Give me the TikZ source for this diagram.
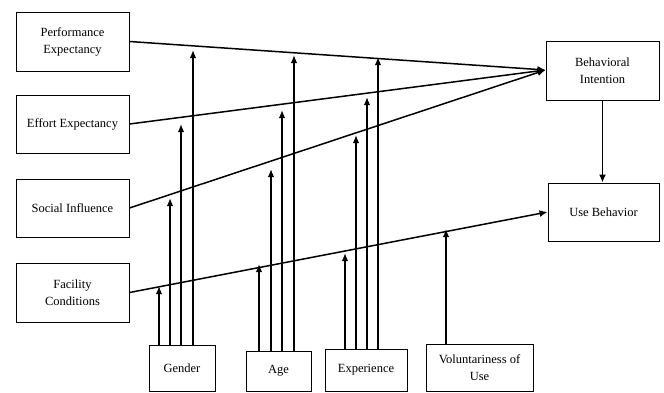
\documentclass[tikz,border=0pt]{standalone}
\usepackage{fontspec}
\setmainfont{Liberation Serif}
\usetikzlibrary{arrows.meta}
\begin{document}
\begin{tikzpicture}[x=1pt,y=-1pt,
  box/.style={draw,line width=1pt,inner sep=0pt,align=center,font=\fontsize{12.5}{17}\selectfont},
  link/.style={line width=1.5pt,-{Latex[length=8pt,width=7pt]}},
  mod/.style={line width=1.5pt,-{Latex[length=8pt,width=6.5pt]}}]
\useasboundingbox (0,0) rectangle (664,392);
% constructs
\node[box,minimum width=113pt,minimum height=59pt] (PE) at (72.5,41.5) {Performance\\Expectancy};
\node[box,minimum width=113pt,minimum height=58pt] (EE) at (72.5,124) {Effort Expectancy};
\node[box,minimum width=113pt,minimum height=58pt] (SI) at (72.5,208) {Social Influence};
\node[box,minimum width=113pt,minimum height=59pt] (FC) at (72.5,292.5) {Facility\\Conditions};
\node[box,minimum width=113pt,minimum height=59pt] (BI) at (602.5,70.5) {Behavioral\\Intention};
\node[box,minimum width=111pt,minimum height=58pt] (UB) at (603.5,212) {Use Behavior};
% moderators
\node[box,minimum width=66pt,minimum height=46pt] (G) at (182,368) {Gender};
\node[box,minimum width=65pt,minimum height=40pt] (A) at (278.5,371) {Age};
\node[box,minimum width=82pt,minimum height=42pt] (X) at (366,370) {Experience};
\node[box,minimum width=107pt,minimum height=47pt] (V) at (479.5,367.5) {Voluntariness of\\Use};
% main paths
\coordinate (bi) at (545.5,70);
\draw[link] (PE.east) -- (bi);
\draw[link] (EE.east) -- (bi);
\draw[link] (SI.east) -- (bi);
\draw[link] (FC.east) -- (UB.west);
\draw[link] (BI.south) -- (BI.south |- UB.north);
% moderator arrow tips
\coordinate (g1) at (159,286);
\coordinate (g2) at (170,198);
\coordinate (g3) at (181,124);
\coordinate (g4) at (193,50);
\coordinate (a1) at (259,264);
\coordinate (a2) at (271,169);
\coordinate (a3) at (282,110);
\coordinate (a4) at (294,55);
\coordinate (x1) at (345,253);
\coordinate (x2) at (356,135);
\coordinate (x3) at (367,97);
\coordinate (x4) at (378,57);
\coordinate (v1) at (446,229);
\foreach \c in {g1,g2,g3,g4} \draw[mod] (\c |- G.north) -- (\c);
\foreach \c in {a1,a2,a3,a4} \draw[mod] (\c |- A.north) -- (\c);
\foreach \c in {x1,x2,x3,x4} \draw[mod] (\c |- X.north) -- (\c);
\draw[mod] (v1 |- V.north) -- (v1);
\end{tikzpicture}
\end{document}
